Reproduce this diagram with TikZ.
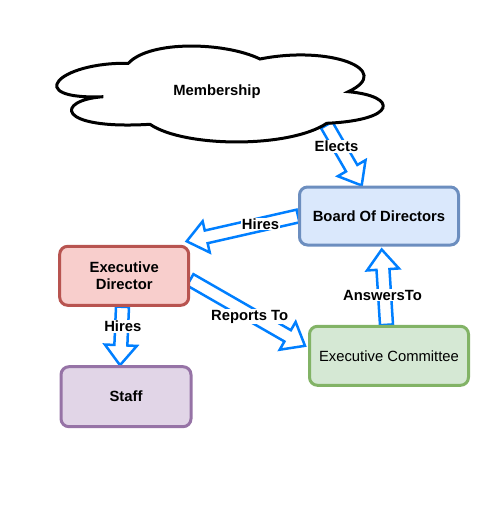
\documentclass[tikz,border=0pt]{standalone}
\usepackage{fontspec}
\setmainfont{Liberation Sans}
\usetikzlibrary{calc,backgrounds}
\definecolor{arrowblue}{RGB}{0,127,255}
\definecolor{bfill}{HTML}{DAE8FC}\definecolor{bdraw}{HTML}{6C8EBF}
\definecolor{rfill}{HTML}{F8CECC}\definecolor{rdraw}{HTML}{B85450}
\definecolor{pfill}{HTML}{E1D5E7}\definecolor{pdraw}{HTML}{9673A6}
\definecolor{gfill}{HTML}{D5E8D4}\definecolor{gdraw}{HTML}{82B366}
\tikzset{
  box/.style={draw, line width=3pt, rounded corners=8pt, align=center, inner sep=0pt,
    font=\fontsize{14.8}{17.7}\selectfont\bfseries},
  lbl/.style={fill=white, inner sep=1pt, font=\fontsize{14.8}{17.7}\selectfont\bfseries},
  blockarrow/.style={draw=arrowblue, line width=2.5pt, fill=white, line join=miter},
  cloudline/.style={draw=black, line width=3pt, fill=white},
}
\newcommand\blkarrow[2]{%
  \coordinate (bkS) at #1;
  \coordinate (bkE) at #2;
  \coordinate (bkH) at ($(bkE)!20pt!(bkS)$);
  \draw[blockarrow] ($(bkS)!6.5pt!90:(bkE)$) -- ($(bkH)!6.5pt!90:(bkE)$)
    -- ($(bkH)!16pt!90:(bkE)$) -- (bkE) -- ($(bkH)!16pt!-90:(bkE)$)
    -- ($(bkH)!6.5pt!-90:(bkE)$) -- ($(bkS)!6.5pt!-90:(bkE)$) -- cycle;
}
\begin{document}
\begin{tikzpicture}[x=1pt,y=-1pt]
\useasboundingbox (0,0) rectangle (491,517);
% cloud
\draw[cloudline] (128.3,63.3) .. controls (58,62) and (22,100) .. (103.3,96.7)
  .. controls (55,100) and (55,130) .. (150,124.3)
  .. controls (185,148) and (290,148) .. (326.7,123.3)
  .. controls (398,120) and (398,96) .. (348.3,91.7)
  .. controls (395,70) and (330,45) .. (260,59)
  .. controls (225,42) and (150,40) .. (128.3,63.3) -- cycle;
\node[font=\fontsize{14.8}{17.7}\selectfont\bfseries] (mem) at (217,92) {Membership};
\coordinate (memout) at (326.7,125);
% boxes
\node[box, fill=bfill, draw=bdraw, minimum width=159pt, minimum height=58pt] (board) at (379,216) {Board Of Directors};
\node[box, fill=rfill, draw=rdraw, minimum width=129pt, minimum height=59pt] (ed) at (124.2,275.8) {Executive\\Director};
\node[box, fill=pfill, draw=pdraw, minimum width=130pt, minimum height=60pt] (staff) at (126,396.7) {Staff};
\node[box, fill=gfill, draw=gdraw, minimum width=159pt, minimum height=59pt, font=\fontsize{14.8}{17.7}\selectfont] (ec) at (389,355.8) {Executive Committee};
% arrows
\begin{scope}[on background layer]
\blkarrow{(memout)}{([xshift=-17.3pt]board.north)}
\blkarrow{(board.west)}{([xshift=-3.5pt,yshift=3.5pt]ed.north east)}
\blkarrow{([xshift=-1.7pt]ed.south)}{([xshift=-6pt]staff.north)}
\blkarrow{([yshift=-4pt]ed.east)}{([xshift=-3pt,yshift=10pt]ec.west)}
\blkarrow{([xshift=-2.5pt]ec.north)}{([xshift=2.7pt,yshift=-3pt]board.south)}
\end{scope}
% labels
\node[lbl] (l1) at (336.5,146.7) {Elects};
\node[lbl] (l2) at (260.5,224) {Hires};
\node[lbl] (l3) at (122.8,326.7) {Hires};
\node[lbl] (l4) at (249.7,316.7) {Reports To};
\node[lbl] (l5) at (382.5,295) {AnswersTo};
\end{tikzpicture}
\end{document}
